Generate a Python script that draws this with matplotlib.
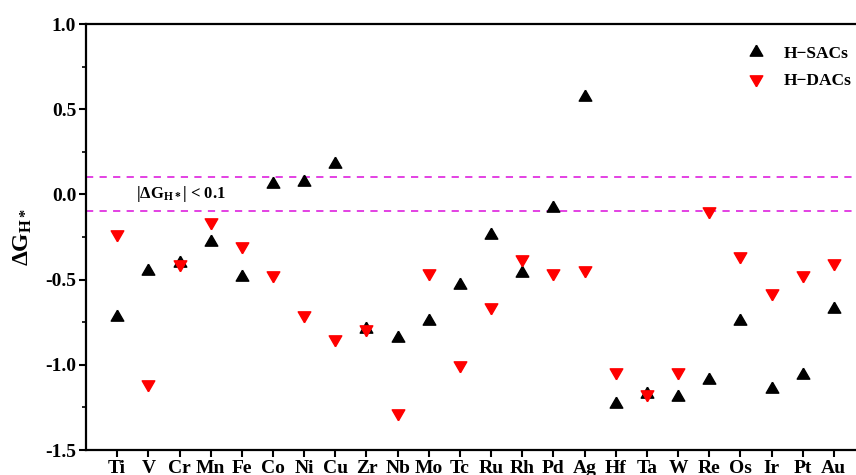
import matplotlib
matplotlib.use('Agg')
import matplotlib.pyplot as plt
from matplotlib.ticker import MultipleLocator

# 元素與 ΔG_H* 數值
metals = ['Ti', 'V', 'Cr', 'Mn', 'Fe', 'Co', 'Ni', 'Cu', 'Zr', 'Nb', 'Mo', 'Tc',
          'Ru', 'Rh', 'Pd', 'Ag', 'Hf', 'Ta', 'W', 'Re', 'Os', 'Ir', 'Pt', 'Au']
sacs = [-0.72, -0.45, -0.40, -0.28, -0.485, 0.06, 0.07, 0.18, -0.79, -0.84, -0.74, -0.53,
        -0.24, -0.46, -0.08, 0.57, -1.23, -1.17, -1.19, -1.09, -0.74, -1.14, -1.06, -0.67]
dacs = [-0.235, -1.11, -0.41, -0.16, -0.30, -0.47, -0.71, -0.85, -0.79, -1.28, -0.46, -1.00,
        -0.66, -0.38, -0.46, -0.445, -1.04, -1.17, -1.04, -0.10, -0.36, -0.58, -0.47, -0.40]
threshold = 0.1

plt.rcParams['font.family'] = ['Liberation Serif', 'DejaVu Serif']
plt.rcParams['font.weight'] = 'bold'
plt.rcParams['mathtext.fontset'] = 'custom'
plt.rcParams['mathtext.rm'] = 'Liberation Serif:bold'
plt.rcParams['mathtext.bf'] = 'Liberation Serif:bold'
plt.rcParams['mathtext.it'] = 'Liberation Serif:bold'

# 以重心為中心的三角形，重疊時形成六角星
tri_up = [(0, 1), (-0.866, -0.5), (0.866, -0.5), (0, 1)]
tri_down = [(0, -1), (-0.866, 0.5), (0.866, 0.5), (0, -1)]

fig = plt.figure(figsize=(8.56, 4.75), dpi=100)
ax = fig.add_axes([0.1005, 0.0526, 0.910, 0.8968])

x = list(range(1, len(metals) + 1))
ax.plot(x, sacs, ls='none', marker=tri_up, color='black', ms=10.5,
        label='H\u2212SACs', zorder=3)
ax.plot(x, dacs, ls='none', marker=tri_down, color='red', ms=10.5,
        label='H\u2212DACs', zorder=4)

ax.axhline(threshold, color='#e033e0', ls=(0, (4, 3.5)), lw=1.3, zorder=2)
ax.axhline(-threshold, color='#e033e0', ls=(0, (4, 3.5)), lw=1.3, zorder=2)
ax.text(1.6, 0.0, r'$|\Delta\mathrm{G}_{\mathrm{H*}}|$ < 0.1', fontsize=12,
        va='center', ha='left')

ax.set_xlim(0, 25)
ax.set_ylim(-1.5, 1.0)
ax.set_xticks(x)
ax.set_xticklabels(metals, fontsize=14, fontweight='bold')
ax.yaxis.set_major_locator(MultipleLocator(0.5))
ax.yaxis.set_minor_locator(MultipleLocator(0.25))
ax.set_yticks(ax.get_yticks())
ax.set_yticklabels([f'{v:.1f}' for v in ax.get_yticks()], fontsize=14, fontweight='bold')
ax.set_ylim(-1.5, 1.0)
ax.tick_params(axis='both', which='major', direction='out', length=5, width=1.5, pad=2)
ax.tick_params(axis='y', which='minor', direction='out', length=3, width=1.2)
ax.set_ylabel(r'$\Delta\mathrm{G}_{\mathrm{H*}}$', fontsize=17, labelpad=8)

for s in ax.spines.values():
    s.set_linewidth(1.6)

ax.legend(loc='upper right', bbox_to_anchor=(1.003, 0.985), frameon=False,
          handletextpad=0.6, labelspacing=0.6,
          prop={'weight': 'bold', 'size': 12.5})

plt.savefig('out.png', dpi=100)
plt.close()
